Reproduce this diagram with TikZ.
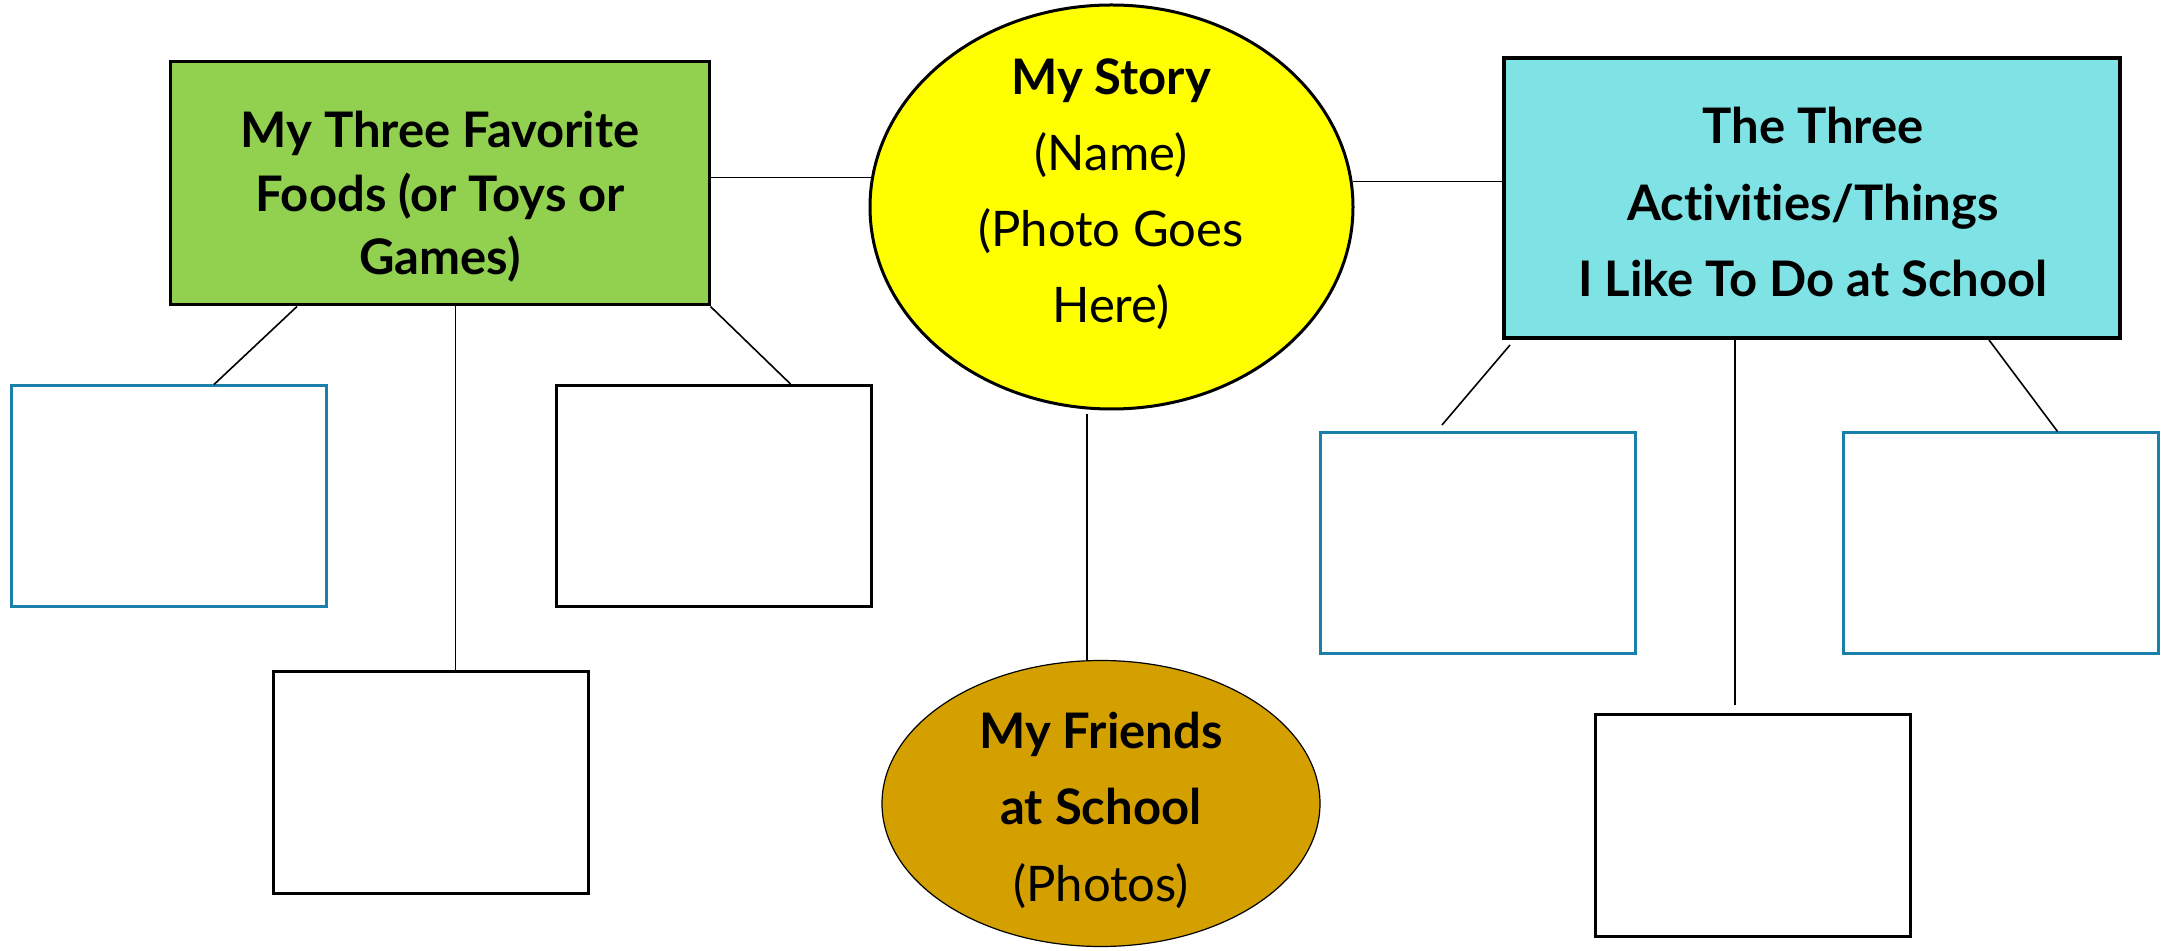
\documentclass[tikz,border=0pt]{standalone}
\usepackage{fontspec}
\setmainfont[Ligatures={NoCommon}]{Lato}
\usetikzlibrary{calc,shapes.geometric}
\definecolor{grn}{HTML}{92D050}
\definecolor{ylw}{HTML}{FFFF00}
\definecolor{cyn}{HTML}{7FE2E5}
\definecolor{gld}{HTML}{D4A000}
\definecolor{bluebd}{HTML}{1A80AA}
\newcommand{\stacklines}[1]{\begin{tabular}[b]{@{}c@{}}#1\end{tabular}}
\begin{document}
\begin{tikzpicture}[x=0.5pt,y=-0.5pt,
  emptybox/.style={draw=black, line width=1.5pt, fill=white, inner sep=0pt,
    minimum width=157.5pt, minimum height=110.5pt},
  bluebox/.style={emptybox, draw=bluebd},
  headbox/.style={draw=black, line width=1.5pt, inner sep=0pt},
  txt/.style={inner sep=0pt, anchor=base},
  link/.style={draw=black, line width=0.8pt}]
\useasboundingbox (0,0) rectangle (2164,951);
% header shapes
\node[headbox, fill=grn, minimum width=269.5pt, minimum height=121.5pt] (green) at (439.5,183.5) {};
\node[headbox, ellipse, fill=ylw, minimum width=241.5pt, minimum height=202pt] (yellow) at (1111.5,207) {};
\node[headbox, line width=2pt, fill=cyn, minimum width=308pt, minimum height=140pt] (cyan) at (1812,198) {};
\node[headbox, ellipse, line width=0.6pt, fill=gld, minimum width=219pt, minimum height=143pt] (gold) at (1101,803.5) {};
% empty boxes
\node[bluebox] (L1) at (169,496.5) {};
\node[emptybox] (L2) at (430.5,782.5) {};
\node[emptybox] (L3) at (713.5,496) {};
\node[bluebox] (R1) at (1478,543.5) {};
\node[emptybox] (R2) at (1752.5,825.5) {};
\node[bluebox] (R3) at (2000.5,543.5) {};
% texts
\renewcommand{\arraystretch}{1}
\node[txt] (tgreen) at (440,275) {\fontsize{24.5}{31.75}\selectfont\bfseries\stacklines{My Three Favorite\\Foods (or Toys or\\Games)}};
\node[txt] (tyellow) at (1111,323) {\fontsize{24.5}{38}\selectfont\stacklines{\bfseries My Story\\(Name)\\(Photo Goes\\Here)}};
\node[txt] (tcyan) at (1813,297) {\fontsize{24.5}{38.25}\selectfont\bfseries\stacklines{The Three\\Activities/Things\\I Like To Do at School}};
\node[txt] (tgold) at (1101,901) {\fontsize{24.5}{38.25}\selectfont\stacklines{\bfseries My Friends\\\bfseries at School\\(Photos)}};
% connectors
\draw[link] (green.east |- yellow.173.6) -- (yellow.173.6);
\draw[link] (yellow.6.4) -- (cyan.west |- yellow.6.4);
\coordinate (ys) at (1087,414);
\draw[link] (ys) -- (ys |- gold.north);
\draw[link] ($(green.south west)+(128.5,0)$) -- ($(L1.north west)+(204,0)$);
\draw[link] ($(green.south west)+(287,0)$) -- ($(L2.north west)+(184,0)$);
\draw[link] (green.south east) -- ($(L3.north west)+(236,0)$);
\coordinate (c1a) at (1510,345);
\coordinate (c1b) at (1442,425);
\draw[link] (c1a) -- (c1b);
\coordinate (c2b) at (1735,705);
\draw[link] (c2b |- cyan.south) -- (c2b);
\draw[link] ($(cyan.south west)+(487,0)$) -- ($(R3.north west)+(216,0)$);
\end{tikzpicture}
\end{document}
